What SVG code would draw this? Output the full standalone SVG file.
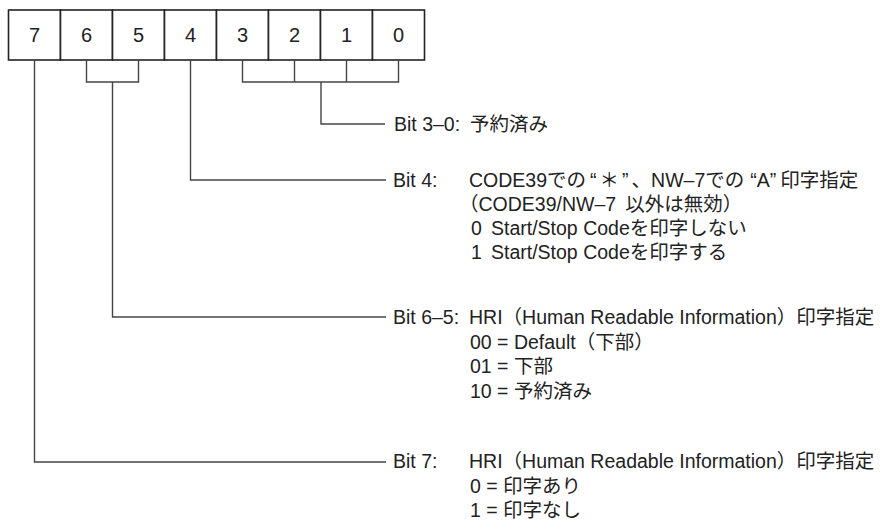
<svg xmlns="http://www.w3.org/2000/svg" width="880" height="529" viewBox="0 0 880 529">
<style>
  .box { fill: #fff; stroke: #222; stroke-width: 1.6; }
  .num { font-family: 'Liberation Sans', 'Noto Sans CJK JP', sans-serif; font-size: 20px; fill: #222; text-anchor: middle; }
  .lbl { font-family: 'Liberation Sans', 'Noto Sans CJK JP', sans-serif; font-size: 19.5px; fill: #222; }
  .cjk { font-family: 'Noto Sans CJK JP', sans-serif; }
  .conn { fill: none; stroke: #444; stroke-width: 1.4; }
</style>
<rect width="880" height="529" fill="#fff"/>
<g id="register">
  <g id="bit7"><rect class="box" x="8.5" y="10" width="52" height="50"/><text class="num" x="34.5" y="42">7</text></g>
  <g id="bit6"><rect class="box" x="60.5" y="10" width="52" height="50"/><text class="num" x="86.5" y="42">6</text></g>
  <g id="bit5"><rect class="box" x="112.5" y="10" width="52" height="50"/><text class="num" x="138.5" y="42">5</text></g>
  <g id="bit4"><rect class="box" x="164.5" y="10" width="52" height="50"/><text class="num" x="190.5" y="42">4</text></g>
  <g id="bit3"><rect class="box" x="216.5" y="10" width="52" height="50"/><text class="num" x="242.5" y="42">3</text></g>
  <g id="bit2"><rect class="box" x="268.5" y="10" width="52" height="50"/><text class="num" x="294.5" y="42">2</text></g>
  <g id="bit1"><rect class="box" x="320.5" y="10" width="52" height="50"/><text class="num" x="346.5" y="42">1</text></g>
  <g id="bit0"><rect class="box" x="372.5" y="10" width="52" height="50"/><text class="num" x="398.5" y="42">0</text></g>
</g>
<g id="connectors">
  <path class="conn" d="M86.5,60 V82 H138.5 V60"/>
  <path class="conn" d="M242.5,60 V82 H398.5 V60 M294.5,60 V82 M346.5,60 V82"/>
  <path class="conn" d="M321,82 V124 H385"/>
  <path class="conn" d="M190.5,60 V180 H386"/>
  <path class="conn" d="M112.5,82 V317 H386"/>
  <path class="conn" d="M34.5,60 V462 H386"/>
</g>
<g id="desc-bit3-0">
  <text class="lbl" x="394" y="131">Bit 3–0: <tspan x="470">予約済み</tspan></text>
</g>
<g id="desc-bit4">
  <text class="lbl" x="393" y="187">Bit 4:</text>
  <text class="lbl" x="469" y="187">CODE39での<tspan dx="4">“</tspan><tspan dx="3">＊</tspan><tspan dx="3">”</tspan><tspan dx="3">、</tspan>NW–7での<tspan dx="6">“</tspan>A”<tspan dx="4">印字指定</tspan></text>
  <text class="lbl" x="459" y="211">（CODE39/NW–7<tspan dx="9">以外は無効）</tspan></text>
  <text class="lbl" x="471" y="235">0<tspan x="491">Start/Stop Codeを印字しない</tspan></text>
  <text class="lbl" x="471" y="259">1<tspan x="491">Start/Stop Codeを印字する</tspan></text>
</g>
<g id="desc-bit6-5">
  <text class="lbl" x="393" y="324">Bit 6–5:</text>
  <text class="lbl" x="469" y="324">HRI（Human Readable Information）印字指定</text>
  <text class="lbl" x="470" y="348.5">00 = Default（下部）</text>
  <text class="lbl" x="470" y="373">01 = 下部</text>
  <text class="lbl" x="470" y="397.5">10 = 予約済み</text>
</g>
<g id="desc-bit7">
  <text class="lbl" x="393" y="468">Bit 7:</text>
  <text class="lbl" x="469" y="468">HRI（Human Readable Information）印字指定</text>
  <text class="lbl" x="470" y="492.5">0 = 印字あり</text>
  <text class="lbl" x="470" y="517">1 = 印字なし</text>
</g>
</svg>
